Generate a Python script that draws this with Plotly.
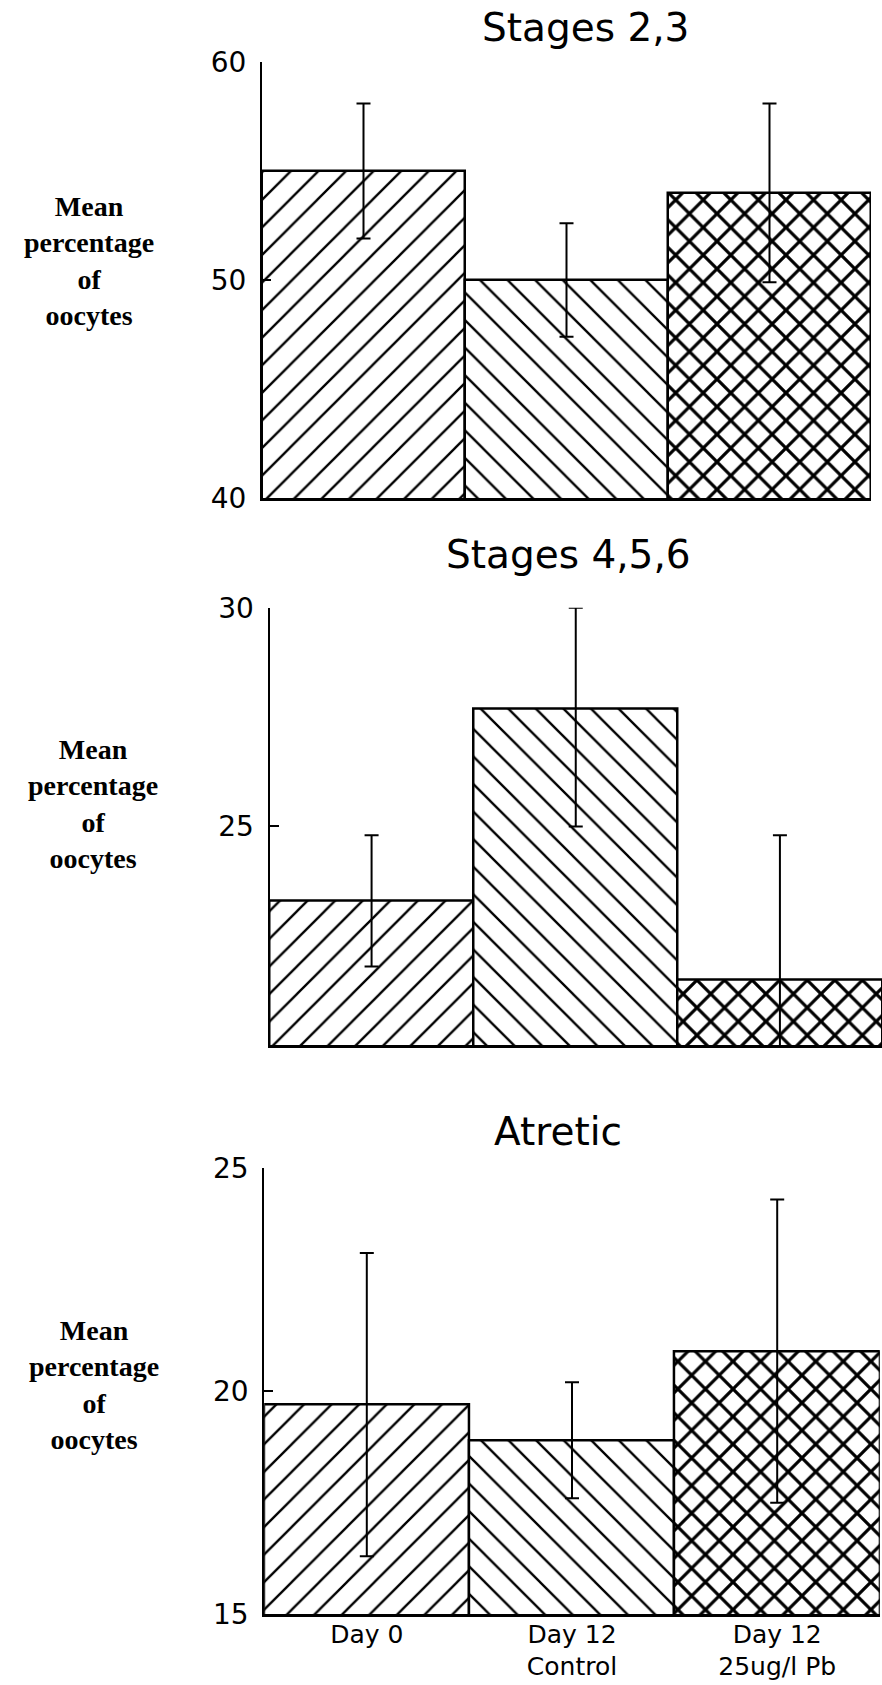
import plotly.graph_objects as go

# ---------------- data ----------------
categories = ["Day 0", "Day 12<br>Control", "Day 12<br>25ug/l Pb"]
panel_titles = ["Stages 2,3", "Stages 4,5,6", "Atretic"]
y_label = "Mean<br>percentage<br>of<br>oocytes"

stages23_mean = [55.0, 50.0, 54.0]
stages23_err_plus = [3.1, 2.6, 4.1]
stages23_err_minus = [3.1, 2.6, 4.1]

stages456_mean = [23.3, 27.7, 21.5]
stages456_err_plus = [1.5, 2.3, 3.3]
stages456_err_minus = [1.5, 2.7, 3.3]

atretic_mean = [19.7, 18.9, 20.9]
atretic_err_plus = [3.4, 1.3, 3.4]
atretic_err_minus = [3.4, 1.3, 3.4]

stages23_ticks = [40, 50, 60]
stages23_ticktext = ["40", "50", "60"]
stages456_ticks = [20, 25, 30]
stages456_ticktext = ["", "25", "30"]
atretic_ticks = [15, 20, 25]
atretic_ticktext = ["15", "20", "25"]

y_ranges = [[40, 60], [20, 30], [15, 25]]

# ---------------- layout constants (pixels) ----------------
W, H = 882, 1685
panels_px = [
    # x0, x1, ytop, ybottom
    (262, 871, 62, 498),
    (269.5, 882, 607.8, 1045.1),
    (264.2, 879.8, 1168.4, 1614.1),
]
title_pos = [(585, 28), (568, 555), (558, 1131)]
ylabel_pos = [(89, 261), (93, 804), (94, 1385)]

patterns = ["/", "\\", "x"]
solidities = [0.12, 0.12, 0.3]

means = [stages23_mean, stages456_mean, atretic_mean]
eplus = [stages23_err_plus, stages456_err_plus, atretic_err_plus]
eminus = [stages23_err_minus, stages456_err_minus, atretic_err_minus]
ticks = [stages23_ticks, stages456_ticks, atretic_ticks]
ticktexts = [stages23_ticktext, stages456_ticktext, atretic_ticktext]

fig = go.Figure()
annotations = []
layout_axes = {}

for i in range(3):
    xa = "x" if i == 0 else f"x{i+1}"
    ya = "y" if i == 0 else f"y{i+1}"
    fig.add_trace(go.Bar(
        x=categories,
        y=means[i],
        xaxis=xa, yaxis=ya,
        width=1.0,
        marker=dict(
            color="white",
            line=dict(color="black", width=2.5),
            pattern=dict(shape=patterns, size=19.5, solidity=solidities,
                         fgcolor="black", bgcolor="white", fgopacity=1),
        ),
        error_y=dict(type="data", symmetric=False, array=eplus[i],
                     arrayminus=eminus[i], color="black", thickness=2, width=7),
        showlegend=False,
        hoverinfo="skip",
    ))
    x0, x1, yt, yb = panels_px[i]
    xkey = "xaxis" if i == 0 else f"xaxis{i+1}"
    ykey = "yaxis" if i == 0 else f"yaxis{i+1}"
    layout_axes[xkey] = dict(
        domain=[x0 / W, x1 / W],
        anchor=ya,
        type="category",
        range=[-0.5, 2.5],
        automargin=False,
        showline=True, linecolor="black", linewidth=2.5,
        showgrid=False, zeroline=False, ticks="",
        showticklabels=(i == 2),
        ticklabelstandoff=-4,
        tickfont=dict(family="DejaVu Sans", size=25, color="black"),
    )
    layout_axes[ykey] = dict(
        domain=[1 - yb / H, 1 - yt / H],
        anchor=xa,
        range=y_ranges[i],
        automargin=False,
        tickvals=ticks[i], ticktext=ticktexts[i],
        showline=True, linecolor="black", linewidth=2,
        ticks="inside", ticklen=9, tickwidth=2, tickcolor="black",
        ticklabelstandoff=8,
        showgrid=False, zeroline=False,
        tickfont=dict(family="DejaVu Sans", size=28, color="black"),
    )
    tx, ty = title_pos[i]
    annotations.append(dict(
        text=panel_titles[i], xref="paper", yref="paper",
        x=tx / W, y=1 - ty / H, xanchor="center", yanchor="middle",
        showarrow=False,
        font=dict(family="DejaVu Sans", size=39, color="black"),
    ))
    lx, ly = ylabel_pos[i]
    annotations.append(dict(
        text=y_label, xref="paper", yref="paper",
        x=lx / W, y=1 - ly / H, xanchor="center", yanchor="middle",
        showarrow=False, align="center",
        font=dict(family="Liberation Serif", size=28, color="black", weight="bold"),
    ))

fig.update_layout(
    width=W, height=H,
    margin=dict(l=0, r=0, t=0, b=0, pad=0, autoexpand=False),
    paper_bgcolor="white", plot_bgcolor="white",
    bargap=0,
    annotations=annotations,
    **layout_axes,
)

fig.write_html(
    "out.html",
    config={"displayModeBar": False},
    post_script="document.body.style.margin='0';document.body.style.overflow='hidden';",
)
